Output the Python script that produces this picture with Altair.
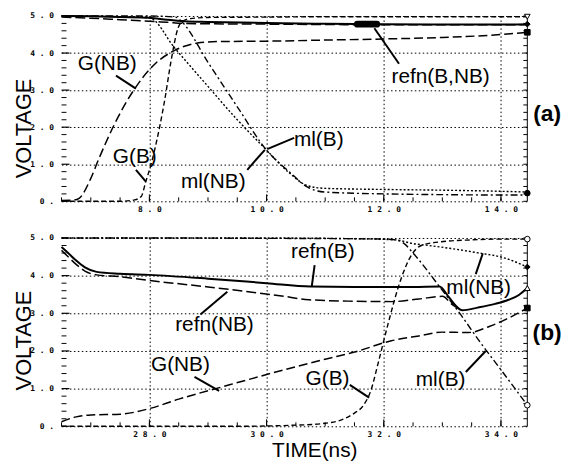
import altair as alt
import pandas as pd

# ---------------- panel (a) data ----------------
a_gnb_t = [6.5, 6.7, 6.8, 7.0, 7.13, 7.41, 7.75, 8.09, 8.43, 8.82, 9.2, 10.0, 11.0, 12.0, 13.0, 14.0, 14.45]
a_gnb_v = [0.02, 0.03, 0.08, 0.62, 1.12, 2.10, 3.04, 3.70, 4.07, 4.27, 4.31, 4.32, 4.35, 4.38, 4.42, 4.50, 4.56]

a_gb_t = [6.5, 7.0, 7.5, 7.75, 7.86, 7.94, 8.02, 8.09, 8.18, 8.26, 8.37, 8.49, 8.56, 8.7, 9.0, 10.0, 11.0, 12.0, 13.0, 14.0, 14.45]
a_gb_v = [0.0, 0.0, 0.0, 0.04, 0.13, 0.54, 0.95, 1.39, 2.05, 2.72, 3.79, 4.68, 4.85, 4.93, 4.96, 4.97, 4.98, 4.98, 4.98, 4.98, 4.98]

a_mlnb_t = [6.5, 7.5, 8.0, 8.43, 9.0, 9.5, 10.0, 10.4, 10.7, 11.0, 12.0, 13.0, 14.0, 14.45]
a_mlnb_v = [5.0, 4.98, 4.95, 4.14, 3.10, 2.20, 1.38, 0.75, 0.42, 0.35, 0.32, 0.30, 0.27, 0.25]

a_mlb_t = [6.5, 8.0, 8.45, 8.55, 9.0, 9.5, 10.0, 10.4, 10.7, 11.0, 12.0, 13.0, 14.0, 14.45]
a_mlb_v = [5.0, 5.0, 4.97, 4.85, 3.75, 2.55, 1.38, 0.78, 0.38, 0.25, 0.20, 0.18, 0.17, 0.17]

a_refb_t = [6.5, 7.0, 7.5, 8.0, 8.3, 8.6, 9.0, 10.0, 11.0, 12.0, 13.0, 14.0, 14.45]
a_refb_v = [5.0, 4.99, 4.97, 4.95, 4.90, 4.86, 4.84, 4.81, 4.79, 4.78, 4.77, 4.77, 4.78]

a_refnb_t = [6.5, 7.0, 7.5, 8.0, 8.3, 8.6, 9.0, 10.0, 11.0, 12.0, 13.0, 14.0, 14.45]
a_refnb_v = [4.97, 4.94, 4.90, 4.86, 4.83, 4.80, 4.79, 4.78, 4.77, 4.76, 4.76, 4.76, 4.76]

a_blob_t = [11.55, 11.88]
a_blob_v = [4.78, 4.78]

a_mark_v = [4.98, 4.78, 4.56, 0.22]
a_mark_shape = ["triangle-down", "diamond", "square", "circle"]
a_mark_fill = ["white", "black", "black", "black"]

a_lab = ["G(NB)", "G(B)", "ml(NB)", "ml(B)", "refn(B,NB)"]
a_lab_t = [7.28, 7.75, 9.09, 10.89, 12.97]
a_lab_v = [3.71, 1.20, 0.53, 1.65, 3.36]
a_ptr_t = [7.43, 7.77, 9.67, 10.47, 12.26]
a_ptr_v = [3.39, 0.85, 0.85, 1.71, 3.71]
a_ptr_t2 = [7.77, 7.94, 9.97, 10.01, 11.84]
a_ptr_v2 = [3.04, 0.53, 1.39, 1.41, 4.67]

# ---------------- panel (b) data ----------------
b_refb_t = [26.5, 26.6, 26.75, 26.9, 27.1, 27.5, 28.0, 29.0, 30.0, 30.75, 31.5, 32.5, 32.95, 33.1, 33.23, 33.34, 33.6, 33.9, 34.13, 34.3, 34.45]
b_refb_v = [4.76, 4.62, 4.40, 4.22, 4.10, 4.05, 4.02, 3.92, 3.80, 3.71, 3.70, 3.70, 3.71, 3.45, 3.20, 3.08, 3.15, 3.25, 3.36, 3.48, 3.67]

b_refnb_t = [26.5, 26.6, 26.75, 26.9, 27.1, 27.5, 27.95, 29.0, 30.3, 30.72, 31.5, 32.14, 32.6, 33.0, 33.17, 33.3]
b_refnb_v = [4.67, 4.52, 4.30, 4.12, 4.02, 3.97, 3.88, 3.70, 3.45, 3.36, 3.32, 3.31, 3.38, 3.45, 3.23, 3.10]

b_gnb_t = [26.5, 26.75, 27.0, 27.5, 28.0, 28.5, 29.25, 30.3, 31.0, 31.5, 32.13, 32.6, 33.0, 33.45, 33.8, 34.1, 34.45]
b_gnb_v = [0.12, 0.25, 0.30, 0.32, 0.47, 0.72, 1.05, 1.50, 1.78, 1.97, 2.27, 2.40, 2.50, 2.49, 2.65, 2.85, 3.14]

b_gb_t = [26.5, 28.0, 29.5, 30.5, 31.0, 31.28, 31.5, 31.65, 31.78, 31.9, 32.07, 32.3, 32.47, 32.64, 32.98, 33.5, 34.0, 34.45]
b_gb_v = [0.0, 0.0, 0.0, 0.03, 0.08, 0.17, 0.35, 0.55, 0.95, 1.65, 2.70, 3.94, 4.54, 4.80, 4.90, 4.95, 4.97, 4.97]

b_mlb_t = [26.5, 28.0, 30.0, 31.5, 32.0, 32.2, 32.35, 32.5, 32.98, 33.32, 33.66, 34.0, 34.45]
b_mlb_v = [5.0, 5.0, 4.99, 4.98, 4.97, 4.95, 4.85, 4.60, 3.65, 2.95, 2.20, 1.50, 0.56]

b_mlnb_t = [26.5, 28.0, 30.0, 31.5, 32.2, 32.5, 32.77, 33.55, 34.1, 34.45]
b_mlnb_v = [5.0, 5.0, 5.0, 4.98, 4.95, 4.85, 4.80, 4.62, 4.45, 4.23]

b_mark_v = [4.97, 4.23, 3.67, 3.14, 0.56]
b_mark_shape = ["circle", "diamond", "triangle-up", "square", "circle"]
b_mark_fill = ["white", "black", "white", "black", "white"]

b_lab = ["refn(B)", "ml(NB)", "refn(NB)", "G(NB)", "G(B)", "ml(B)"]
b_lab_t = [30.96, 33.62, 29.11, 28.53, 31.04, 32.97]
b_lab_v = [4.62, 3.67, 2.68, 1.63, 1.26, 1.23]
b_ptr_t = [30.82, 33.57, 28.87, 28.77, 31.42, 33.40]
b_ptr_v = [4.28, 4.04, 2.97, 1.31, 1.10, 1.44]
b_ptr_t2 = [30.77, 33.69, 29.33, 29.19, 31.75, 33.74]
b_ptr_v2 = [3.70, 4.59, 3.57, 0.94, 0.76, 2.00]

# axis tick positions
y_major = [0, 1, 2, 3, 4, 5]
y_minor = [round(i * 0.2, 1) for i in range(1, 25) if i % 5]
a_xmajor = [8, 10, 12, 14]
b_xmajor = [28, 30, 32, 34]
a_xminor = [6.5 + 0.5 * i for i in range(16)]
b_xminor = [26.5 + 0.5 * i for i in range(16)]

W = 470
HA, HB = 187, 190

STYLES = {
    "G(NB)": dict(strokeDash=[9, 4], strokeWidth=1.5),
    "G(B)": dict(strokeDash=[5, 3], strokeWidth=1.4),
    "ml(NB)": dict(strokeDash=[2, 2], strokeWidth=1.4),
    "ml(B)": dict(strokeDash=[7, 3, 2, 3], strokeWidth=1.4),
    "refn(NB)": dict(strokeDash=[10, 4], strokeWidth=1.5),
    "refn(B)": dict(strokeWidth=2),
}

FONT = "Liberation Sans"
MONO = "DejaVu Sans Mono"
XEXPR = "datum.value < 10 ? datum.value + ' . 0' : floor(datum.value / 10) + ' ' + (datum.value % 10) + ' . 0'"
YEXPR = "datum.value == 0 ? '0 .' : datum.value + ' . 0'"


def make_x(dom, vals, title):
    kw = dict(values=vals, grid=True, gridColor="black", gridDash=[1.5, 2.5], gridWidth=1,
              gridOpacity=1, domain=False, ticks=False, labelFont=MONO, labelFontSize=8,
              labelFontWeight="bold", labelColor="black", labelPadding=4, labelExpr=XEXPR)
    if title:
        kw.update(title=title, titleFont=FONT, titleFontSize=21, titleFontWeight="normal",
                  titleColor="black", titleX=255, titleY=31, titleBaseline="alphabetic",
                  titleAlign="center")
    else:
        kw["title"] = None
    return alt.X("t:Q", scale=alt.Scale(domain=dom, nice=False, zero=False), axis=alt.Axis(**kw))


def make_y(title_y):
    ax = alt.Axis(values=y_major, grid=True, gridColor="black", gridDash=[1.5, 2.5], gridWidth=1,
                  gridOpacity=1, domain=False, ticks=False, labelFont=MONO, labelFontSize=8,
                  labelFontWeight="bold", labelColor="black", labelPadding=8, labelExpr=YEXPR,
                  title="VOLTAGE", titleFont=FONT, titleFontSize=22, titleFontWeight="normal",
                  titleColor="black", titleX=-31, titleY=title_y, titleBaseline="alphabetic",
                  titleAngle=270, titleAlign="center")
    return alt.Y("v:Q", scale=alt.Scale(domain=[0, 5], nice=False, zero=False), axis=ax)


def panel(series, blob, mark_t, mark_v, mark_shape, mark_fill, lab, lab_t, lab_v,
          p_t, p_v, p_t2, p_v2, dom, xmajor, xminor, h, tag, tag_y, title, title_y):
    X = make_x(dom, xmajor, title)
    Y = make_y(title_y)
    layers = []
    # minor / major ticks drawn inward
    layers.append(alt.Chart(pd.DataFrame({"v": y_minor})).mark_rule(color="black", strokeWidth=1)
                  .encode(y=Y, x=alt.value(0), x2=alt.value(5)))
    layers.append(alt.Chart(pd.DataFrame({"v": y_major})).mark_rule(color="black", strokeWidth=1.2)
                  .encode(y=Y, x=alt.value(0), x2=alt.value(8)))
    layers.append(alt.Chart(pd.DataFrame({"v": y_minor + y_major})).mark_rule(color="black", strokeWidth=1)
                  .encode(y=Y, x=alt.value(W - 4), x2=alt.value(W)))
    layers.append(alt.Chart(pd.DataFrame({"t": xminor})).mark_rule(color="black", strokeWidth=1)
                  .encode(x=X, y=alt.value(h), y2=alt.value(h - 4)))
    layers.append(alt.Chart(pd.DataFrame({"t": xmajor})).mark_rule(color="black", strokeWidth=1)
                  .encode(x=X, y=alt.value(h), y2=alt.value(h - 7)))
    # right frame line
    layers.append(alt.Chart(pd.DataFrame({"k": [0]})).mark_rule(color="black", strokeWidth=1)
                  .encode(x=alt.value(W), y=alt.value(0), y2=alt.value(h)))
    # curves
    for name, (t, v) in series.items():
        layers.append(alt.Chart(pd.DataFrame({"t": t, "v": v}))
                      .mark_line(color="black", interpolate="monotone", **STYLES[name])
                      .encode(x=X, y=Y))
    if blob is not None:
        layers.append(alt.Chart(pd.DataFrame({"t": blob[0], "v": blob[1]}))
                      .mark_line(color="black", strokeWidth=7, strokeCap="round")
                      .encode(x=X, y=Y))
    # end markers
    mk = pd.DataFrame({"t": mark_t, "v": mark_v, "shape": mark_shape, "fill": mark_fill})
    layers.append(alt.Chart(mk).mark_point(filled=True, stroke="black", strokeWidth=1, size=32, opacity=1)
                  .encode(x=X, y=Y, shape=alt.Shape("shape:N", scale=None),
                          fill=alt.Fill("fill:N", scale=None)))
    # pointers and labels
    ptr = pd.DataFrame({"t": p_t, "v": p_v, "t2": p_t2, "v2": p_v2})
    layers.append(alt.Chart(ptr).mark_rule(color="black", strokeWidth=2)
                  .encode(x=X, y=Y, x2="t2:Q", y2="v2:Q"))
    lb = pd.DataFrame({"t": lab_t, "v": lab_v, "label": lab})
    layers.append(alt.Chart(lb).mark_text(font=FONT, fontSize=21, color="black", align="center",
                                          baseline="middle")
                  .encode(x=X, y=Y, text="label:N"))
    layers.append(alt.Chart(pd.DataFrame({"tag": [tag]}))
                  .mark_text(font=FONT, fontSize=23, fontWeight="bold", color="black",
                             align="center", baseline="middle")
                  .encode(text="tag:N", x=alt.value(W + 20), y=alt.value(tag_y)))
    return alt.layer(*layers).properties(width=W, height=h)


series_a = {
    "refn(NB)": (a_refnb_t, a_refnb_v),
    "refn(B)": (a_refb_t, a_refb_v),
    "G(NB)": (a_gnb_t, a_gnb_v),
    "G(B)": (a_gb_t, a_gb_v),
    "ml(NB)": (a_mlnb_t, a_mlnb_v),
    "ml(B)": (a_mlb_t, a_mlb_v),
}
series_b = {
    "refn(NB)": (b_refnb_t, b_refnb_v),
    "refn(B)": (b_refb_t, b_refb_v),
    "G(NB)": (b_gnb_t, b_gnb_v),
    "G(B)": (b_gb_t, b_gb_v),
    "ml(NB)": (b_mlnb_t, b_mlnb_v),
    "ml(B)": (b_mlb_t, b_mlb_v),
}

pa = panel(series_a, (a_blob_t, a_blob_v), [14.45] * len(a_mark_v), a_mark_v, a_mark_shape, a_mark_fill,
           a_lab, a_lab_t, a_lab_v, a_ptr_t, a_ptr_v, a_ptr_t2, a_ptr_v2,
           [6.5, 14.45], a_xmajor, a_xminor, HA, "(a)", 99, None, 113)
pb = panel(series_b, None, [34.45] * len(b_mark_v), b_mark_v, b_mark_shape, b_mark_fill,
           b_lab, b_lab_t, b_lab_v, b_ptr_t, b_ptr_v, b_ptr_t2, b_ptr_v2,
           [26.5, 34.45], b_xmajor, b_xminor, HB, "(b)", 96, "TIME(ns)", 103)

chart = (alt.vconcat(pa, pb, spacing=21)
         .configure_view(stroke=None)
         .properties(padding={"left": 5, "top": 0, "right": 0, "bottom": 0}, background="white"))

chart.save("out.html", embed_options={"renderer": "svg", "actions": False})
